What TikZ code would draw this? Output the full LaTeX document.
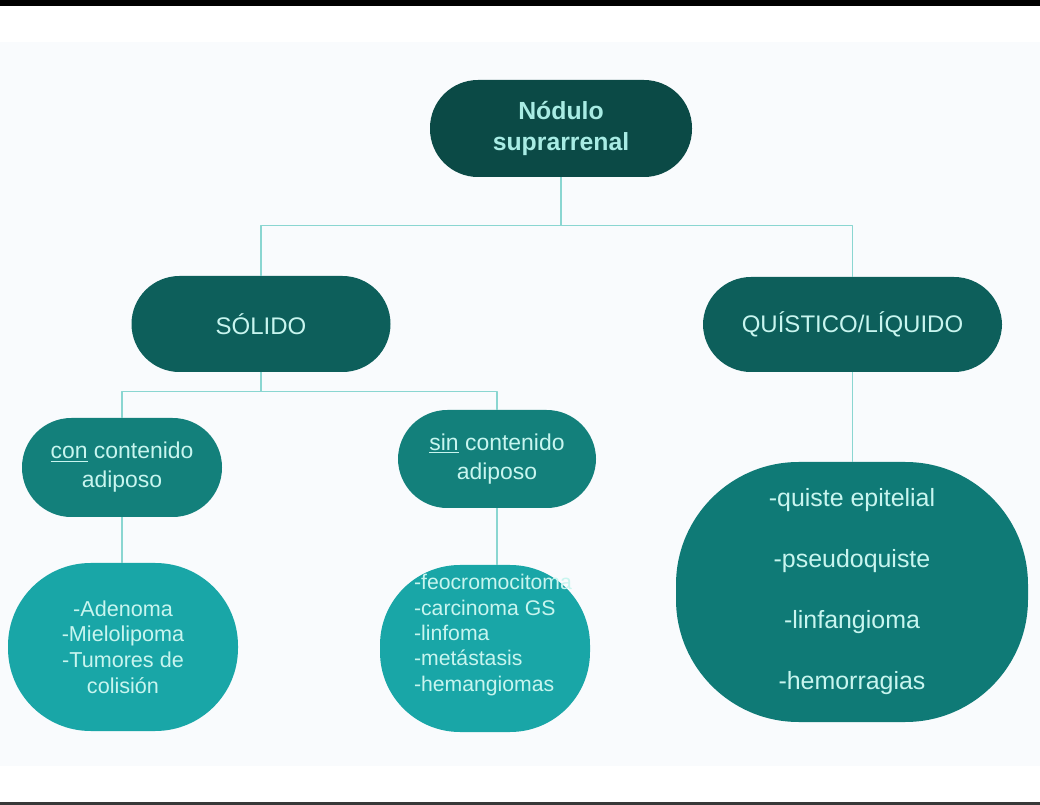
\documentclass[tikz,border=0pt]{standalone}
\usepackage{fontspec}
\setmainfont{Liberation Sans}
\usetikzlibrary{calc}

\definecolor{tealdark}{HTML}{0B4A46}
\definecolor{tealmid}{HTML}{0D5F5B}
\definecolor{tealsub}{HTML}{13807B}
\definecolor{tealbright}{HTML}{19A6A7}
\definecolor{tealcyst}{HTML}{0F7A76}
\definecolor{mint}{HTML}{C8F5EF}
\definecolor{minttop}{HTML}{A8ECE4}
\definecolor{linkcol}{HTML}{8AD6D1}
\definecolor{pagebg}{HTML}{F9FBFD}

\begin{document}
\begin{tikzpicture}[x=0.75pt,y=-0.75pt,line join=round,
  box/.style={rectangle,inner sep=0pt,text=mint,align=center},
  pill/.style={box,rounded corners=36pt},
  blob/.style={box},
  link/.style={draw=linkcol,line width=1.1pt}]

%% ---------------- page: white sheet, grey panel, edge bars ----------------
\fill[white] (0,0) rectangle (1040,805);
\fill[pagebg] (0,42) rectangle (1040,766);
\fill[black] (0,0) rectangle (1040,6);
\fill[black!78] (0,802) rectangle (1040,805);

%% ---------------- level 0 ----------------
\node[pill,fill=tealdark,text=minttop,minimum width=196.5pt,minimum height=72.75pt,
      font=\bfseries\fontsize{18.6pt}{23.25pt}\selectfont]
  (nodulo) at (561,128.5) {Nódulo\\suprarrenal};

%% ---------------- level 1 ----------------
\node[pill,fill=tealmid,minimum width=194.25pt,minimum height=72pt,
      font=\fontsize{18pt}{22pt}\selectfont]
  (solido) at (261,324) {SÓLIDO};
\node[pill,fill=tealmid,minimum width=224.25pt,minimum height=71.25pt,
      font=\fontsize{18pt}{22pt}\selectfont]
  (quistico) at (852.5,324.5) {QUÍSTICO/LÍQUIDO};

%% ---------------- level 2 ----------------
\node[pill,fill=tealsub,rounded corners=37pt,minimum width=150pt,minimum height=74.25pt,
      font=\fontsize{17.2pt}{21.75pt}\selectfont]
  (con) at (122,467.5) {\underline{con} contenido\\adiposo};
\node[pill,fill=tealsub,rounded corners=37pt,minimum width=148.5pt,minimum height=73.5pt,
      font=\fontsize{17.2pt}{21.75pt}\selectfont]
  (sin) at (497,459) {\underline{sin} contenido\\adiposo};

%% ---------------- leaves ----------------
\node[blob,fill=tealbright,rounded corners=62pt,minimum width=172.5pt,minimum height=126pt,
      font=\fontsize{16.2pt}{19.3pt}\selectfont]
  (conlist) at (123,647) {-Adenoma\\-Mielolipoma\\-Tumores de\\colisión};
\node[blob,fill=tealbright,rounded corners=60pt,minimum width=157.5pt,minimum height=125.25pt]
  (sinlist) at (485,648.5) {};
\node[box,align=left,font=\fontsize{15.9pt}{19.1pt}\selectfont]
  (sinitems) at (493,635) {-feocromocitoma\\-carcinoma GS\\-linfoma\\-metástasis\\-hemangiomas};
\node[blob,fill=tealcyst,rounded corners=92pt,minimum width=264pt,minimum height=195pt,
      font=\fontsize{18.7pt}{45.75pt}\selectfont]
  (quistes) at (852,592) {-quiste epitelial\\-pseudoquiste\\-linfangioma\\-hemorragias};

%% ---------------- connectors ----------------
\draw[link] (nodulo.south) -- ++(0,48) -| (solido.north);
\draw[link] (nodulo.south) -- ++(0,48) -| (quistico.north);
\draw[link] (solido.south) -- ++(0,19) -| (con.north);
\draw[link] (solido.south) -- ++(0,19) -| (sin.north);
\draw[link] (con.south) -- (con.south |- conlist.north);
\draw[link] (sin.south) -- (sin.south |- sinlist.north);
\draw[link] (quistico.south) -- (quistico.south |- quistes.north);

\end{tikzpicture}
\end{document}
